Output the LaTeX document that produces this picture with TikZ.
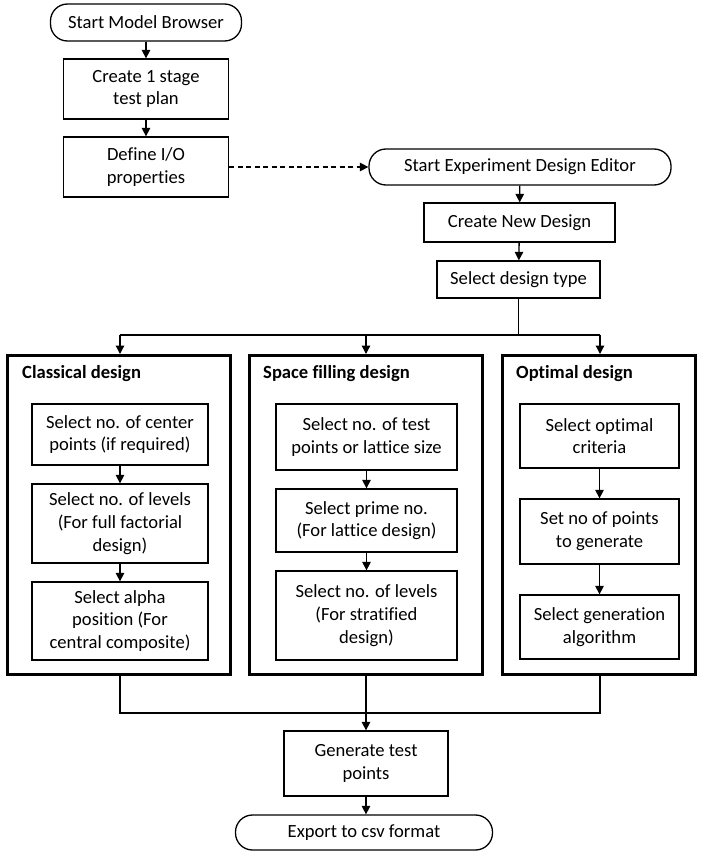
\documentclass[tikz,border=0pt]{standalone}
\usepackage{fontspec}
\setmainfont{Carlito}[Ligatures={NoCommon}]
\usetikzlibrary{arrows.meta}
\begin{document}
\begin{tikzpicture}[x=1pt,y=-1pt,
  font=\fontsize{18.6}{22.7}\selectfont,
  stepbox/.style={draw, line width=1.3pt, inner sep=0pt, align=center},
  termbox/.style={stepbox, rounded corners=17pt},
  grpbox/.style={draw, line width=3pt, inner sep=0pt},
  ttl/.style={font=\fontsize{18.6}{22.7}\selectfont\bfseries, anchor=west, inner sep=0pt},
  arr/.style={line width=1.3pt, -{Triangle[width=8.5pt,length=8.5pt]}},
  conn/.style={line width=1.3pt}]
\path[use as bounding box] (0,0) rectangle (704,856);

% top part
\node[termbox, minimum width=191pt, minimum height=37pt] (smb) at (146,22.5) {Start Model Browser};
\node[stepbox, minimum width=165pt, minimum height=60pt] (c1) at (146,89) {Create 1 stage\\test plan};
\node[stepbox, minimum width=165pt, minimum height=60pt] (dio) at (146,167) {Define I/O\\properties};
\node[termbox, minimum width=302pt, minimum height=36pt] (sed) at (520,167) {Start Experiment Design Editor};
\node[stepbox, minimum width=191pt, minimum height=39pt] (cnd) at (519.5,222.5) {Create New Design};
\node[stepbox, minimum width=163pt, minimum height=37pt] (sdt) at (518.5,279.5) {Select design type};

\draw[arr] (smb) -- (c1);
\draw[arr] (c1) -- (dio);
\draw[arr, dash pattern=on 5pt off 3.5pt] (dio.east) -- (sed.west);
\draw[arr] (sed) -- (cnd);
\draw[arr] (cnd) -- (sdt);

% group boxes
\node[grpbox, minimum width=223pt, minimum height=319pt] (cl) at (119,515) {};
\node[grpbox, minimum width=233pt, minimum height=319pt] (sp) at (366,515) {};
\node[grpbox, minimum width=193pt, minimum height=319pt] (op) at (599,515) {};
\node[ttl] (clt) at (22,374) {Classical design};
\node[ttl] (spt) at (263,374) {Space filling design};
\node[ttl] (opt) at (516,374) {Optimal design};

% branch
\coordinate (bl) at (120,335);
\coordinate (bm) at (366,335);
\coordinate (br) at (600,335);
\draw[conn] (sdt.south) -- (sdt.south |- bl);
\draw[conn] (bl) -- (br);
\draw[arr] (bl) -- (bl |- cl.north);
\draw[arr] (bm) -- (bm |- sp.north);
\draw[arr] (br) -- (br |- op.north);

% classical
\node[stepbox, minimum width=176pt, minimum height=61pt] (ca) at (120,434.5) {Select no. of center\\points (if required)};
\node[stepbox, minimum width=176pt, minimum height=79pt] (cb) at (120,523.5) {Select no. of levels\\(For full factorial\\design)};
\node[stepbox, minimum width=176pt, minimum height=78pt] (cc) at (120,621) {Select alpha\\position (For\\central composite)};
\draw[arr] (ca) -- (cb);
\draw[arr] (cb) -- (cc);

% space filling
\node[stepbox, minimum width=181pt, minimum height=66pt] (sa) at (366.5,437) {Select no. of test\\points or lattice size};
\node[stepbox, minimum width=181pt, minimum height=63pt] (sb) at (366.5,520.5) {Select prime no.\\(For lattice design)};
\node[stepbox, minimum width=181pt, minimum height=89pt] (sc) at (366.5,615.5) {Select no. of levels\\(For stratified\\design)};
\draw[arr] (sa) -- (sb);
\draw[arr] (sb) -- (sc);

% optimal
\node[stepbox, minimum width=159pt, minimum height=64pt] (oa) at (599.5,436) {Select optimal\\criteria};
\node[stepbox, minimum width=159pt, minimum height=65pt] (ob) at (599.5,531.5) {Set no of points\\to generate};
\node[stepbox, minimum width=159pt, minimum height=64pt] (oc) at (599.5,627) {Select generation\\algorithm};
\draw[arr] (oa) -- (ob);
\draw[arr] (ob) -- (oc);

% merge
\node[stepbox, minimum width=164pt, minimum height=65pt] (gen) at (366,763.5) {Generate test\\points};
\node[termbox, minimum width=257pt, minimum height=35pt] (exp) at (364,832.5) {Export to csv format};
\coordinate (ml) at (120,713);
\coordinate (mr) at (600,713);
\draw[conn] (cl.south -| ml) -- (ml) -- (mr) -- (op.south -| mr);
\draw[arr] (sp.south) -- (gen.north);
\draw[arr] (gen.south) -- (gen.south |- exp.north);
\end{tikzpicture}
\end{document}
